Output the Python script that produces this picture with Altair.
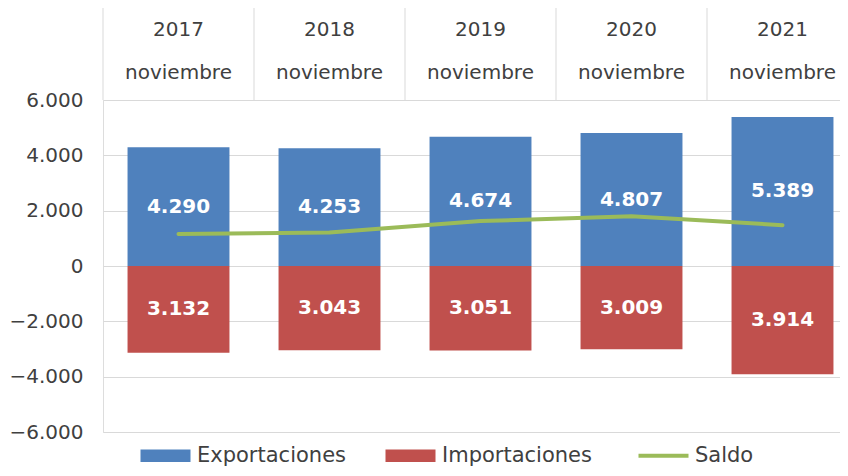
import altair as alt
import pandas as pd

years = ["2017", "2018", "2019", "2020", "2021"]
month = "noviembre"
exportaciones = [4290, 4253, 4674, 4807, 5389]
importaciones = [3132, 3043, 3051, 3009, 3914]
saldo = [e - i for e, i in zip(exportaciones, importaciones)]
series = ["Exportaciones", "Importaciones", "Saldo"]
colors = ["#4F81BD", "#C0504D", "#9BBB59"]
y_ticks = [-6000, -4000, -2000, 0, 2000, 4000, 6000]

def fmt(v):
    return f"{v:,.0f}".replace(",", ".")

rows = []
for y, e, i in zip(years, exportaciones, importaciones):
    rows.append({"Año": y, "Tipo": "Exportaciones", "valor": e, "mid": e / 2, "label": fmt(e)})
    rows.append({"Año": y, "Tipo": "Importaciones", "valor": -i, "mid": -i / 2, "label": fmt(i)})
bars_df = pd.DataFrame(rows)
line_df = pd.DataFrame({"Año": years, "Tipo": "Saldo", "valor": saldo})
head_df = pd.DataFrame({"Año": years, "mes": month})

FONT = "DejaVu Sans"
TXT = "#404040"

xscale = alt.Scale(paddingInner=0, paddingOuter=0, range=[0, 755])
xenc = alt.X("Año:N", sort=years, axis=None, scale=xscale)
yscale = alt.Scale(domain=[-6000, 6000], nice=False)

legend = alt.Legend(
    title=None, orient="none", direction="horizontal", legendX=52, legendY=345,
    labelFont=FONT, labelFontSize=21, labelColor=TXT, symbolSize=2500,
    symbolType={"expr": "datum.value === 'Saldo' ? 'stroke' : 'M-1,-0.25H1V0.25H-1Z'"},
    symbolStrokeWidth={"expr": "datum.value === 'Saldo' ? 4 : 0"},
    columnPadding=38, labelOffset=21,
)
color = alt.Color("Tipo:N", scale=alt.Scale(domain=series, range=colors), legend=legend)

bars = alt.Chart(bars_df).mark_bar(width=alt.RelativeBandSize(0.675)).encode(
    x=xenc,
    y=alt.Y("valor:Q", scale=yscale, stack=None, title=None,
            axis=alt.Axis(values=y_ticks, grid=True, gridColor="#D9D9D9", domain=False,
                          ticks=False, labelFont=FONT, labelFontSize=20, labelColor=TXT,
                          labelPadding=20,
                          labelExpr="replace(format(datum.value, ',.0f'), ',', '.')")),
    color=color,
)
labels = alt.Chart(bars_df).mark_text(font=FONT, fontSize=20, fontWeight="bold",
                                      color="white", baseline="middle").encode(
    x=xenc, y=alt.Y("mid:Q", scale=yscale), text="label:N")
line = alt.Chart(line_df).mark_line(strokeWidth=4, strokeCap="round").encode(
    x=xenc, y=alt.Y("valor:Q", scale=yscale), color=color)

hdr_year = alt.Chart(head_df).mark_text(font=FONT, fontSize=20, color=TXT, baseline="middle").encode(
    x=xenc, y=alt.value(-70), text="Año:N")
hdr_mes = alt.Chart(head_df).mark_text(font=FONT, fontSize=20, color=TXT, baseline="middle").encode(
    x=xenc, y=alt.value(-27), text="mes:N")
hdr_rules = alt.Chart(head_df).mark_rule(color="#D9D9D9", strokeWidth=1).encode(
    x=alt.X("Año:N", sort=years, axis=None, bandPosition=0, scale=xscale),
    y=alt.value(-95), y2=alt.value(0))

chart = alt.layer(bars, labels, line, hdr_rules, hdr_year, hdr_mes).properties(
    width=737, height=332,
    autosize=alt.AutoSizeParams(type="none"),
    padding={"left": 95, "top": 92, "right": 0, "bottom": 36},
).configure_view(stroke=None).configure(background="white")

chart.save("out.html", embed_options={"renderer": "svg", "actions": False})
